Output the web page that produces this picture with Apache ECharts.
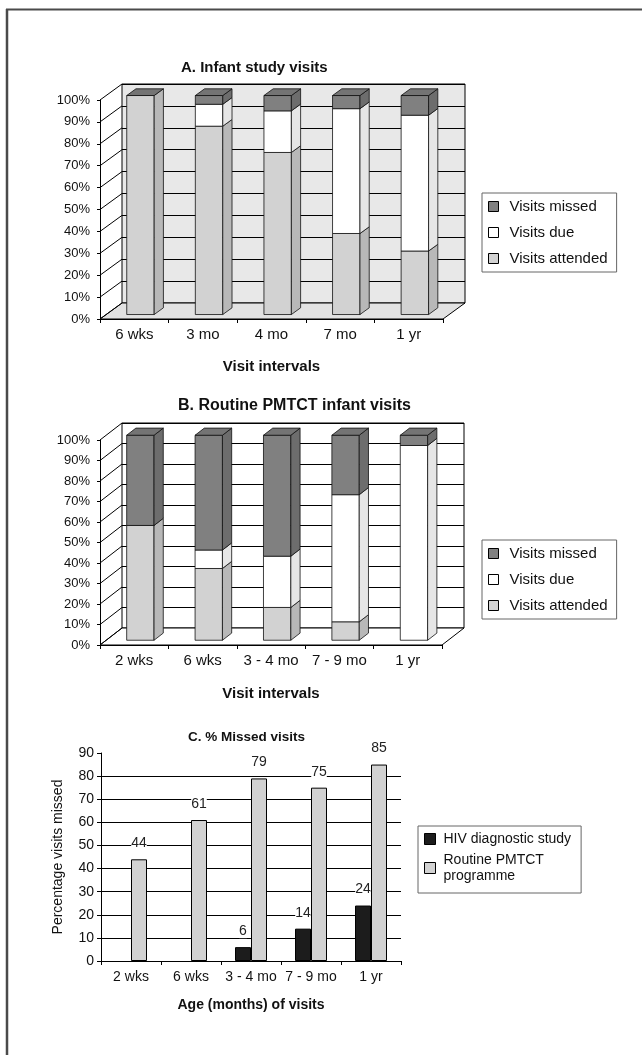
<!DOCTYPE html>
<html><head><meta charset="utf-8">
<script src="https://cdn.jsdelivr.net/npm/echarts@6/dist/echarts.min.js"></script>
<style>html,body{margin:0;padding:0;background:#fff}#c{width:642px;height:1055px}</style>
</head><body><div id="c"></div>
<script>
// ---------- DATA ----------
const pctTicks = [0, 10, 20, 30, 40, 50, 60, 70, 80, 90, 100];

const catsA = ['6 wks', '3 mo', '4 mo', '7 mo', '1 yr'];
const attendedA = [100, 86, 74, 37, 29];
const dueA = [0, 10, 19, 57, 62];
const missedA = [0, 4, 7, 6, 9];

const catsB = ['2 wks', '6 wks', '3 - 4 mo', '7 - 9 mo', '1 yr'];
const attendedB = [56, 35, 16, 9, 0];
const dueB = [0, 9, 25, 62, 95];
const missedB = [44, 56, 59, 29, 5];

const catsC = ['2 wks', '6 wks', '3 - 4 mo', '7 - 9 mo', '1 yr'];
const hivStudy = [null, null, 6, 14, 24];
const routine = [44, 61, 79, 75, 85];

// ---------- STYLE ----------
const FONT = '"Liberation Sans", Arial, Helvetica, sans-serif';
const F0 = 0.28, FD = 0.42, BARFRAC = 0.4;
const DA = [22, -16], DB = [22, -17];
const COL = {
  missed: { front: '#808080', side: '#6d6d6d', top: '#747474' },
  due: { front: '#ffffff', side: '#e6e6e6' },
  attended: { front: '#d2d2d2', side: '#b8b8b8' }
};

function stackData(parts) {
  const out = parts.map(() => []);
  const n = parts[0].length;
  for (let i = 0; i < n; i++) {
    let acc = 0;
    parts.forEach((arr, k) => { out[k].push([i, acc, acc + arr[i]]); acc += arr[i]; });
  }
  return out;
}

function barRender(D, colors) {
  return function (params, api) {
    const i = api.value(0), s = api.value(1), e = api.value(2);
    const bw = api.size([1, 0])[0] * BARFRAC;
    const pb = api.coord([i, s]), pt = api.coord([i, e]);
    const ox = D[0] * F0, oy = D[1] * F0, dx = D[0] * FD, dy = D[1] * FD;
    const x0 = pb[0] - bw / 2 + ox, x1 = x0 + bw, yb = pb[1] + oy, yt = pt[1] + oy;
    const st = { stroke: '#111', lineWidth: 0.8 };
    const ch = [];
    if (e - s > 0) {
      ch.push({ type: 'rect', shape: { x: x0, y: yt, width: bw, height: yb - yt }, style: Object.assign({ fill: colors.front }, st) });
      ch.push({ type: 'polygon', shape: { points: [[x1, yb], [x1 + dx, yb + dy], [x1 + dx, yt + dy], [x1, yt]] }, style: Object.assign({ fill: colors.side }, st) });
    }
    if (colors.top) {
      ch.push({ type: 'polygon', shape: { points: [[x0, yt], [x1, yt], [x1 + dx, yt + dy], [x0 + dx, yt + dy]] }, style: Object.assign({ fill: colors.top }, st) });
    }
    return { type: 'group', children: ch };
  };
}

function wallRender(D, floorFill) {
  return function (params, api) {
    const cs = params.coordSys;
    const v = api.value(1);
    const y = api.coord([0, v])[1];
    const xl = cs.x, xr = cs.x + cs.width;
    const ch = [];
    if (params.dataIndex === 0) {
      ch.push({ type: 'polygon', shape: { points: [[xl, y], [xr, y], [xr + D[0], y + D[1]], [xl + D[0], y + D[1]]] }, style: { fill: floorFill, stroke: '#000', lineWidth: 1 } });
    }
    ch.push({ type: 'line', shape: { x1: xl, y1: y, x2: xl + D[0], y2: y + D[1] }, style: { stroke: '#000', lineWidth: 1 } });
    return { type: 'group', children: ch };
  };
}

const gA = { left: 100, top: 100, width: 343, height: 219 };
const gB = { left: 100, top: 440, width: 342, height: 205 };
const gC = { left: 101, top: 753, width: 300, height: 208 };

function backGrid(g, D, bg) {
  return { left: g.left + D[0], top: g.top + D[1], width: g.width, height: g.height, show: true, backgroundColor: bg, borderColor: '#000', borderWidth: 1 };
}

const axisLineBlack = { show: true, lineStyle: { color: '#000', width: 1 } };

function frontX(idx, cats, gap) {
  return {
    gridIndex: idx, type: 'category', data: cats,
    axisLine: axisLineBlack,
    axisTick: { show: true, length: 4, lineStyle: { color: '#000' } },
    axisLabel: { interval: 0, fontSize: 15, color: '#111', margin: 8, fontFamily: FONT },
    name: 'Visit intervals', nameLocation: 'middle', nameGap: gap,
    nameTextStyle: { fontSize: 15, fontWeight: 'bold', color: '#111', fontFamily: FONT }
  };
}
function frontY(idx) {
  return {
    gridIndex: idx, type: 'value', min: 0, max: 100, interval: 10,
    axisLine: axisLineBlack,
    axisTick: { show: true, length: 3, lineStyle: { color: '#000' } },
    axisLabel: { formatter: '{value}%', fontSize: 13, color: '#111', margin: 10, fontFamily: FONT },
    splitLine: { show: false }
  };
}
function backX(idx, cats) {
  return { gridIndex: idx, type: 'category', data: cats, show: false };
}
function backY(idx) {
  return {
    gridIndex: idx, type: 'value', min: 0, max: 100, interval: 10,
    axisLine: { show: false }, axisTick: { show: false }, axisLabel: { show: false },
    splitLine: { show: true, lineStyle: { color: '#000', width: 1 } }
  };
}

const [sAttA, sDueA, sMisA] = stackData([attendedA, dueA, missedA]);
const [sAttB, sDueB, sMisB] = stackData([attendedB, dueB, missedB]);

function barSeries(name, data, D, colors, xi, yi) {
  return { type: 'custom', name: name, xAxisIndex: xi, yAxisIndex: yi, data: data, clip: false, z: 5,
    itemStyle: { color: colors.front }, renderItem: barRender(D, colors), silent: true };
}
function wallSeries(D, floorFill, xi, yi) {
  return { type: 'custom', name: 'wall', xAxisIndex: xi, yAxisIndex: yi, data: pctTicks.map(v => [0, v]), clip: false, z: 3,
    renderItem: wallRender(D, floorFill), silent: true };
}

function legendBox(top) {
  return {
    data: ['Visits missed', 'Visits due', 'Visits attended'],
    orient: 'vertical', left: 482, top: top,
    padding: [5, 9, 5, 6], itemGap: 9, itemWidth: 10, itemHeight: 10, icon: 'rect',
    borderColor: '#666', borderWidth: 1, backgroundColor: '#fff',
    itemStyle: { borderColor: '#000', borderWidth: 1 },
    textStyle: { fontSize: 15, color: '#111', lineHeight: 17, padding: [0, 0, 0, 6], fontFamily: FONT },
    selectedMode: false
  };
}

const labelC = { show: true, position: 'top', distance: 9, fontSize: 14, color: '#222', backgroundColor: '#fff', padding: 0, fontFamily: FONT };

const option = {
  animation: false,
  backgroundColor: '#fff',
  textStyle: { fontFamily: FONT },
  graphic: [
    { type: 'line', shape: { x1: 6, y1: 9.5, x2: 642, y2: 9.5 }, style: { stroke: '#4a4a4a', lineWidth: 2 } },
    { type: 'line', shape: { x1: 7, y1: 9, x2: 7, y2: 1055 }, style: { stroke: '#4a4a4a', lineWidth: 2.5 } }
  ],
  title: [
    { text: 'A. Infant study visits', left: 181, top: 60, padding: 0, textStyle: { fontSize: 15, fontWeight: 'bold', color: '#111', fontFamily: FONT } },
    { text: 'B. Routine PMTCT infant visits', left: 178, top: 398, padding: 0, textStyle: { fontSize: 16, fontWeight: 'bold', color: '#111', fontFamily: FONT } },
    { text: 'C. % Missed visits', left: 188, top: 730, padding: 0, textStyle: { fontSize: 13.5, fontWeight: 'bold', color: '#111', fontFamily: FONT } }
  ],
  legend: [
    legendBox(193),
    legendBox(540),
    {
      data: ['HIV diagnostic study', 'Routine PMTCT programme'],
      orient: 'vertical', left: 418, top: 826,
      padding: [5, 10, 9, 6], itemGap: 5, itemWidth: 11, itemHeight: 11, icon: 'rect',
      borderColor: '#666', borderWidth: 1,
      itemStyle: { borderColor: '#000', borderWidth: 1 },
      formatter: n => n.replace(' programme', '\nprogramme'),
      textStyle: { fontSize: 14, color: '#111', lineHeight: 16, padding: [0, 0, 0, 3], fontFamily: FONT },
      selectedMode: false
    }
  ],
  grid: [
    gA,
    backGrid(gA, DA, '#e8e8e8'),
    gB,
    backGrid(gB, DB, '#ffffff'),
    gC
  ],
  xAxis: [
    frontX(0, catsA, 40),
    backX(1, catsA),
    frontX(2, catsB, 41),
    backX(3, catsB),
    {
      gridIndex: 4, type: 'category', data: catsC,
      axisLine: axisLineBlack,
      axisTick: { show: true, length: 4, lineStyle: { color: '#000' } },
      axisLabel: { interval: 0, fontSize: 14, color: '#111', margin: 9, fontFamily: FONT },
      name: 'Age (months) of visits', nameLocation: 'middle', nameGap: 37,
      nameTextStyle: { fontSize: 14, fontWeight: 'bold', color: '#111', fontFamily: FONT }
    }
  ],
  yAxis: [
    frontY(0),
    backY(1),
    frontY(2),
    backY(3),
    {
      gridIndex: 4, type: 'value', min: 0, max: 90, interval: 10,
      axisLine: axisLineBlack,
      axisTick: { show: true, length: 4, lineStyle: { color: '#000' } },
      axisLabel: { fontSize: 14, color: '#111', margin: 7, fontFamily: FONT },
      splitLine: { show: true, showMaxLine: false, lineStyle: { color: '#000', width: 1 } },
      name: 'Percentage visits missed', nameLocation: 'middle', nameGap: 36,
      nameTextStyle: { fontSize: 14, color: '#111', fontFamily: FONT }
    }
  ],
  series: [
    wallSeries(DA, '#e2e2e2', 0, 0),
    barSeries('Visits attended', sAttA, DA, COL.attended, 0, 0),
    barSeries('Visits due', sDueA, DA, COL.due, 0, 0),
    barSeries('Visits missed', sMisA, DA, COL.missed, 0, 0),
    wallSeries(DB, '#ffffff', 2, 2),
    barSeries('Visits attended', sAttB, DB, COL.attended, 2, 2),
    barSeries('Visits due', sDueB, DB, COL.due, 2, 2),
    barSeries('Visits missed', sMisB, DB, COL.missed, 2, 2),
    {
      type: 'bar', name: 'HIV diagnostic study', xAxisIndex: 4, yAxisIndex: 4, data: hivStudy,
      barWidth: 16, barGap: '0%',
      itemStyle: { color: '#1c1c1c', borderColor: '#000', borderWidth: 1 },
      label: labelC
    },
    {
      type: 'bar', name: 'Routine PMTCT programme', xAxisIndex: 4, yAxisIndex: 4, data: routine,
      barWidth: 16, barGap: '0%',
      itemStyle: { color: '#d2d2d2', borderColor: '#000', borderWidth: 1 },
      label: labelC
    }
  ]
};

const chart = echarts.init(document.getElementById('c'), null, { renderer: 'canvas', width: 642, height: 1055 });
chart.setOption(option);
</script>
</body></html>
